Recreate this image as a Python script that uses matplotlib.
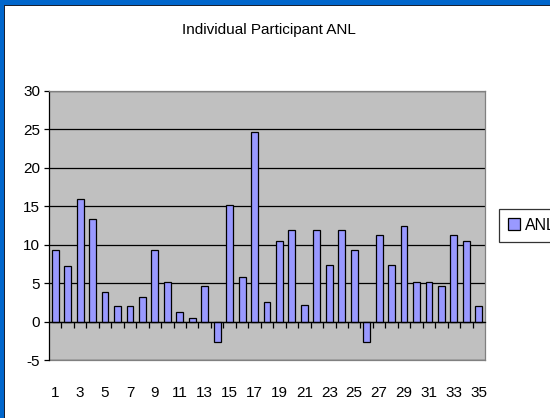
import matplotlib
matplotlib.use("Agg")
import matplotlib.pyplot as plt
from matplotlib.patches import Rectangle, Patch

plt.rcParams['font.family'] = ['Liberation Sans', 'DejaVu Sans']
plt.rcParams['axes.unicode_minus'] = False

participants = list(range(1, 36))
anl = [9.3, 7.2, 16.0, 13.3, 3.8, 2.0, 2.0, 3.2, 9.3, 5.2,
       1.2, 0.5, 4.6, -2.7, 15.2, 5.8, 24.7, 2.6, 10.5, 11.9,
       2.2, 11.9, 7.3, 11.9, 9.3, -2.7, 11.3, 7.3, 12.5, 5.2,
       5.2, 4.6, 11.3, 10.5, 2.0]
yticks = [-5, 0, 5, 10, 15, 20, 25, 30]
xlabels = [str(p) for p in participants[::2]]

W, H = 550, 418
fig = plt.figure(figsize=(W / 100, H / 100), dpi=100)
fig.patch.set_facecolor('white')

ax = fig.add_axes([49 / W, (H - 360) / H, 436 / W, (360 - 91) / H])
ax.set_facecolor('#C0C0C0')
ax.bar(participants, anl, width=0.55, color='#9999FF', edgecolor='black', linewidth=0.9, zorder=3)
ax.set_xlim(0.5, 35.5)
ax.set_ylim(-5, 30)
ax.set_yticks(yticks)
ax.yaxis.grid(True, color='black', linewidth=0.9, zorder=1)
ax.tick_params(axis='y', direction='out', length=3.5, width=0.9, pad=3, labelsize=11)

# bottom spine as zero line with boundary ticks
ax.spines['bottom'].set_position(('data', 0))
ax.spines['bottom'].set_linewidth(0.9)
ax.spines['bottom'].set_zorder(4)
ax.set_xticks([p + 0.5 for p in participants[:-1]])
ax.set_xticklabels([])
ax.tick_params(axis='x', direction='out', length=4, width=0.9)
ax.spines['left'].set_linewidth(0.9)
for s in ('top', 'right'):
    ax.spines[s].set_color('#808080')
    ax.spines[s].set_linewidth(0.9)

sec = ax.secondary_xaxis('bottom')
sec.set_xticks(participants[::2])
sec.set_xticklabels(xlabels)
sec.tick_params(axis='x', length=0, pad=19, labelsize=11)
sec.spines['bottom'].set_color('#808080')
sec.spines['bottom'].set_linewidth(0.9)

fig.text(269 / W, 1 - 30 / H, 'Individual Participant ANL', ha='center', va='center', fontsize=11)

leg = fig.legend(handles=[Patch(facecolor='#9999FF', edgecolor='black', linewidth=0.9, label='ANL')],
                 loc='upper left', bbox_to_anchor=(499 / W, 1 - 209 / H),
                 frameon=True, fancybox=False, edgecolor='black', fontsize=11.5,
                 handlelength=0.75, handleheight=0.75, handletextpad=0.3,
                 borderpad=0.55, borderaxespad=0)
leg.get_frame().set_linewidth(0.9)

# window border (blue top and left)
fig.patches.append(Rectangle((0, 1 - 5 / H), 1, 5 / H, transform=fig.transFigure,
                             facecolor='#0066CC', edgecolor='none', zorder=10))
fig.patches.append(Rectangle((0, 1 - 6 / H), 1, 1.2 / H, transform=fig.transFigure,
                             facecolor='#1a2030', edgecolor='none', zorder=10))
fig.patches.append(Rectangle((0, 0), 4 / W, 1, transform=fig.transFigure,
                             facecolor='#0066CC', edgecolor='none', zorder=10))
fig.patches.append(Rectangle((4 / W, 0), 1.2 / W, 1 - 5 / H, transform=fig.transFigure,
                             facecolor='#1a2030', edgecolor='none', zorder=10))

fig.savefig('out.png', dpi=100)
